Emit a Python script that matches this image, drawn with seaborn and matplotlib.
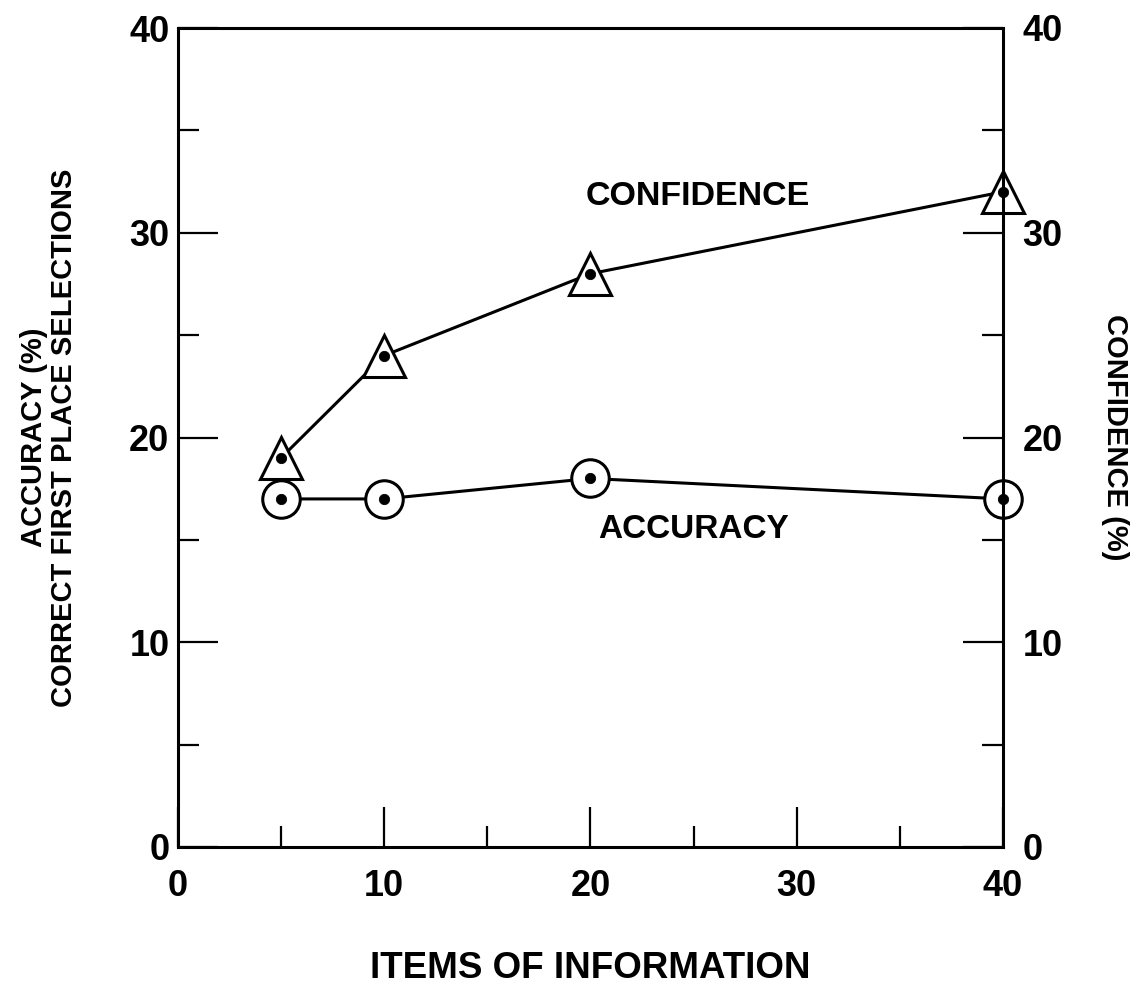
"""Accuracy and confidence vs. items of information."""

import matplotlib

matplotlib.use("Agg")
import matplotlib.pyplot as plt
import pandas as pd
import seaborn as sns
from matplotlib.ticker import MultipleLocator

# Data
items = [5, 10, 20, 40]
confidence = [19, 24, 28, 32]
accuracy = [17, 17, 18, 17]

sns.set_style("white")
plt.rcParams["font.family"] = ["Liberation Sans", "DejaVu Sans"]
plt.rcParams["font.weight"] = "bold"
plt.rcParams["text.color"] = "black"
plt.rcParams["axes.labelcolor"] = "black"
plt.rcParams["xtick.color"] = "black"
plt.rcParams["ytick.color"] = "black"

df = pd.DataFrame({"items": items, "confidence": confidence, "accuracy": accuracy})

fig = plt.figure(figsize=(11.47, 10), dpi=100)
ax = fig.add_axes([0.155, 0.153, 0.7195, 0.819])

line_kw = dict(color="black", linewidth=2.2, markerfacecolor="white",
               markeredgecolor="black", markeredgewidth=2.2, clip_on=False)

sns.lineplot(data=df, x="items", y="confidence", marker="^", markersize=30,
             ax=ax, **line_kw)
sns.lineplot(data=df, x="items", y="accuracy", marker="o", markersize=27,
             ax=ax, **line_kw)
# center dots
sns.scatterplot(data=df, x="items", y="confidence", color="black", s=55,
                edgecolor="black", ax=ax, zorder=5, clip_on=False)
sns.scatterplot(data=df, x="items", y="accuracy", color="black", s=55,
                edgecolor="black", ax=ax, zorder=5, clip_on=False)

ax.set_xlim(0, 40)
ax.set_ylim(0, 40)
ax.xaxis.set_major_locator(MultipleLocator(10))
ax.xaxis.set_minor_locator(MultipleLocator(5))
ax.yaxis.set_major_locator(MultipleLocator(10))
ax.yaxis.set_minor_locator(MultipleLocator(5))

# right axis (labels only)
ax2 = ax.twinx()
ax2.set_ylim(0, 40)
ax2.yaxis.set_major_locator(MultipleLocator(10))
ax2.tick_params(axis="y", which="both", direction="in", length=0,
                labelsize=26, pad=14)
ax2.set_ylabel("CONFIDENCE (%)", fontsize=21, fontweight="bold",
               rotation=-90, labelpad=48)
for spine in ax2.spines.values():
    spine.set_visible(False)

ax.tick_params(which="both", direction="in", bottom=True, left=True,
               top=False, right=True, labelright=False, labelsize=26,
               width=1.6, color="black")
ax.tick_params(which="major", length=29)
ax.tick_params(which="minor", length=15)
ax.tick_params(axis="x", pad=16)
ax.tick_params(axis="y", pad=6)
for spine in ax.spines.values():
    spine.set_linewidth(2.2)
    spine.set_color("black")

ax.set_xlabel("ITEMS OF INFORMATION", fontsize=26.5, fontweight="bold",
              labelpad=34)
ax.set_ylabel("ACCURACY (%)\nCORRECT FIRST PLACE SELECTIONS", fontsize=21,
              fontweight="bold", labelpad=37, linespacing=1.1)

ax.text(25.2, 31.75, "CONFIDENCE", fontsize=24.5, fontweight="bold",
        ha="center", va="center")
ax.text(25.0, 15.5, "ACCURACY", fontsize=24, fontweight="bold",
        ha="center", va="center")

plt.savefig("out.png", dpi=100)
